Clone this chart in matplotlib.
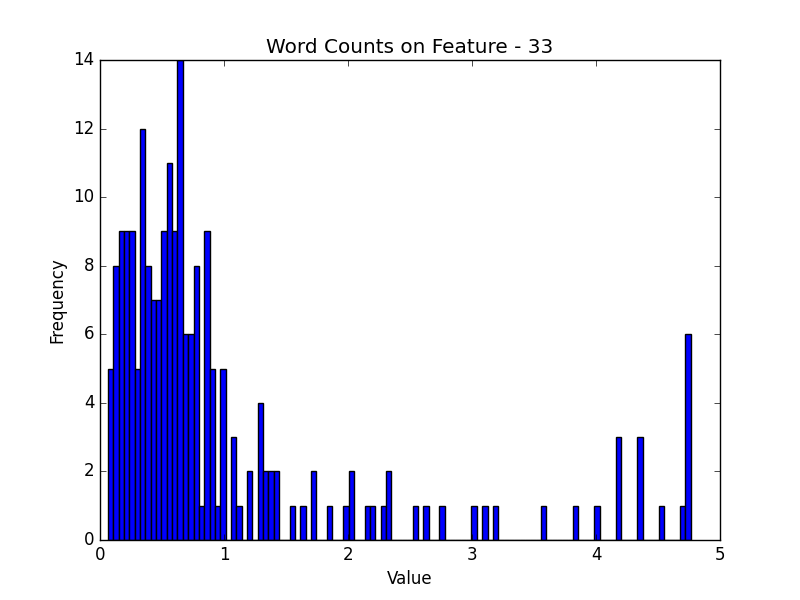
import numpy as np
import matplotlib
matplotlib.use('Agg')
import matplotlib.pyplot as plt

# histogram: 109 equal bins between x_lo and x_hi
x_lo = 0.0646
x_hi = 4.763
n_bins = 109

# counts for the first 32 bins
head_counts = [5, 8, 9, 9, 9, 5, 12, 8, 7, 7, 9, 11, 9, 14, 6, 6,
               8, 1, 9, 5, 1, 5, 0, 3, 1, 0, 2, 0, 4, 2, 2, 2]
# sparse tail: bin index -> count
tail_bins = [34, 36, 38, 41, 44, 45, 48, 49, 51, 52, 57, 59, 62, 68, 70, 72,
             81, 87, 91, 95, 99, 103, 107, 108]
tail_counts = [1, 1, 2, 1, 1, 2, 1, 1, 1, 2, 1, 1, 1, 1, 1, 1,
               1, 1, 1, 3, 3, 1, 1, 6]

counts = np.zeros(n_bins)
counts[:len(head_counts)] = head_counts
counts[tail_bins] = tail_counts
edges = np.linspace(x_lo, x_hi, n_bins + 1)

plt.style.use('classic')
fig = plt.figure(figsize=(8, 6), dpi=100, facecolor='white')
ax = fig.add_subplot(111)

ax.hist(edges[:-1], bins=edges, weights=counts, color='b',
        edgecolor='black', linewidth=1)

ax.set_xlim(0, 5)
ax.set_ylim(0, 14)
ax.set_title('Word Counts on Feature - 33')
ax.set_xlabel('Value')
ax.set_ylabel('Frequency')

fig.savefig('out.png', dpi=100, facecolor='white')
